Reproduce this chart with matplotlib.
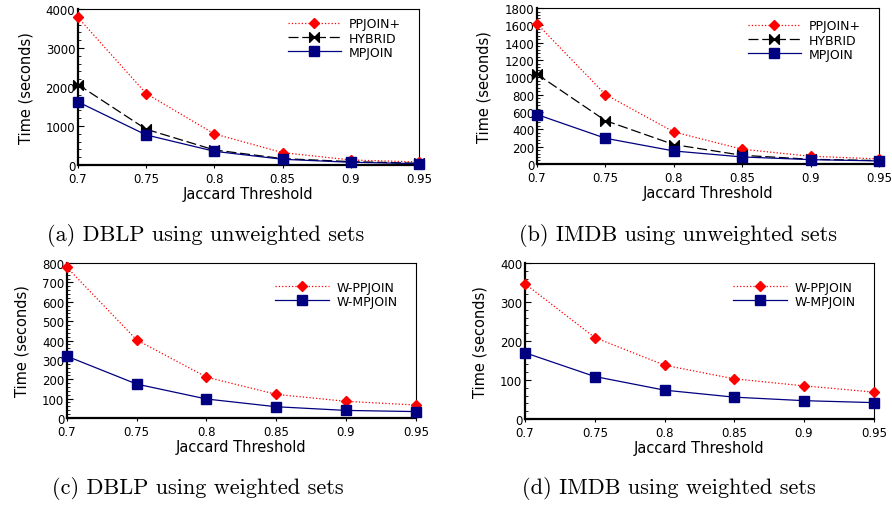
import numpy as np
import matplotlib
matplotlib.use("Agg")
import matplotlib.pyplot as plt
from matplotlib.path import Path
from matplotlib.ticker import AutoMinorLocator

# --- data ---
thresholds = [0.7, 0.75, 0.8, 0.85, 0.9, 0.95]
xtick_labels = ["0.7", "0.75", "0.8", "0.85", "0.9", "0.95"]

dblp_ppjoin = [3786, 1833, 797, 317, 128, 77]
dblp_hybrid = [2064, 917, 385, 163, 86, 43]
dblp_mpjoin = [1619, 771, 351, 146, 69, 34]

imdb_ppjoin = [1619, 802, 370, 170, 89, 58]
imdb_hybrid = [1037, 501, 224, 100, 54, 39]
imdb_mpjoin = [571, 297, 150, 81, 50, 35]

dblp_w_ppjoin = [778, 403, 211, 122, 86, 67]
dblp_w_mpjoin = [319, 175, 98, 58, 39, 33]

imdb_w_ppjoin = [347, 209, 138, 103, 85, 69]
imdb_w_mpjoin = [170, 109, 74, 56, 47, 42]

captions = ["(a) DBLP using unweighted sets", "(b) IMDB using unweighted sets",
            "(c) DBLP using weighted sets", "(d) IMDB using weighted sets"]

# bowtie marker for HYBRID
bowtie = Path([(-1, 1), (-1, -1), (0, 0), (-1, 1), (1, 1), (1, -1), (0, 0), (1, 1)],
              [Path.MOVETO, Path.LINETO, Path.LINETO, Path.CLOSEPOLY,
               Path.MOVETO, Path.LINETO, Path.LINETO, Path.CLOSEPOLY])

STYLE_PP = dict(color="red", linestyle=":", linewidth=0.9, marker="D", markersize=5.5)
STYLE_HY = dict(color="black", linestyle=(0, (8, 3)), linewidth=0.9, marker=bowtie, markersize=7)
STYLE_MP = dict(color="#000080", linestyle="-", linewidth=0.9, marker="s", markersize=7)

fig = plt.figure(figsize=(8.92, 5.06), dpi=100)

# axes rectangles [left, bottom, width, height]
rects = [
    [0.0874, 0.672, 0.3823, 0.308],
    [0.602, 0.674, 0.3834, 0.308],
    [0.0751, 0.172, 0.391, 0.306],
    [0.5886, 0.170, 0.391, 0.308],
]
ylims = [(0, 4000), (0, 1800), (0, 800), (0, 400)]
ysteps = [1000, 200, 100, 100]
legend_y = [1.02, 1.0, 0.96, 0.96]

series = [
    [(dblp_ppjoin, "PPJOIN+", STYLE_PP), (dblp_hybrid, "HYBRID", STYLE_HY), (dblp_mpjoin, "MPJOIN", STYLE_MP)],
    [(imdb_ppjoin, "PPJOIN+", STYLE_PP), (imdb_hybrid, "HYBRID", STYLE_HY), (imdb_mpjoin, "MPJOIN", STYLE_MP)],
    [(dblp_w_ppjoin, "W-PPJOIN", STYLE_PP), (dblp_w_mpjoin, "W-MPJOIN", STYLE_MP)],
    [(imdb_w_ppjoin, "W-PPJOIN", STYLE_PP), (imdb_w_mpjoin, "W-MPJOIN", STYLE_MP)],
]

for i, rect in enumerate(rects):
    ax = fig.add_axes(rect)
    for vals, lab, st in series[i]:
        ax.plot(thresholds, vals, label=lab, clip_on=False, zorder=3, **st)
    ax.set_xlim(0.7, 0.95)
    ax.set_ylim(*ylims[i])
    ax.set_xticks(thresholds)
    ax.set_xticklabels(xtick_labels)
    ax.set_yticks(np.arange(ylims[i][0], ylims[i][1] + 1, ysteps[i]))
    ax.yaxis.set_minor_locator(AutoMinorLocator(5))
    ax.tick_params(axis="y", which="both", direction="in", labelsize=8.5, pad=2)
    ax.tick_params(axis="y", which="major", length=4)
    ax.tick_params(axis="y", which="minor", length=2.5)
    ax.tick_params(axis="x", direction="out", length=2.5, labelsize=8.5, pad=2.5)
    for s in ["left", "bottom"]:
        ax.spines[s].set_linewidth(1.6)
    for s in ["top", "right"]:
        ax.spines[s].set_linewidth(0.8)
    ax.set_xlabel("Jaccard Threshold", fontsize=10.5, labelpad=1)
    ax.set_ylabel("Time (seconds)", fontsize=10.5, labelpad=9)
    ax.legend(loc="upper right", frameon=False, fontsize=9, handlelength=4.3,
              handletextpad=0.6, labelspacing=0.1, bbox_to_anchor=(0.98, legend_y[i]))

# captions in a Computer Modern style font
cap_pos = [(0.231, 0.535), (0.760, 0.535), (0.222, 0.035), (0.750, 0.035)]
for (cx, cy), txt in zip(cap_pos, captions):
    fig.text(cx, cy, txt, ha="center", va="center", fontsize=16, family="cmr10")

plt.savefig("out.png", dpi=100)
